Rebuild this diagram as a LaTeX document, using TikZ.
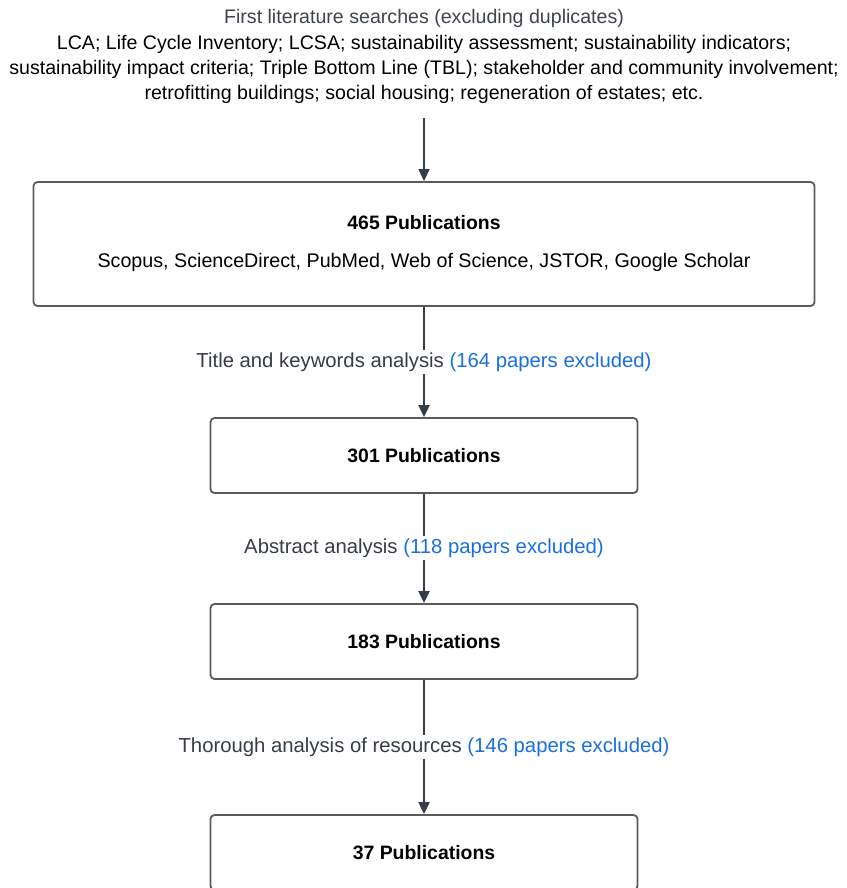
\documentclass[tikz,border=0pt]{standalone}
\usepackage{fontspec}
\setmainfont{Liberation Sans}
\usetikzlibrary{arrows.meta}
\definecolor{headgray}{HTML}{3F454D}
\definecolor{linegray}{HTML}{373D47}
\definecolor{boxgray}{HTML}{5A5A5A}
\definecolor{exclblue}{HTML}{1C6FE0}
\begin{document}
\begin{tikzpicture}[x=1pt,y=-1pt,
    pubbox/.style={draw=boxgray,line width=1.8pt,rounded corners=4pt,fill=white,
      align=center,font=\fontsize{19.7}{22}\selectfont},
    steplabel/.style={text=linegray,inner xsep=0pt,inner ysep=2pt,font=\fontsize{20.3}{22}\selectfont},
    flow/.style={linegray,line width=2pt},
    flowarrow/.style={flow,-{Triangle[length=12pt,width=11pt]}}]
    \clip (0,0) rectangle (846,888);
    \fill[white] (0,0) rectangle (846,888);
    % search terms
    \node[align=center,anchor=north,inner sep=0pt,font=\fontsize{19.6}{25.1}\selectfont] (search) at (424,9.5)
      {{\color{headgray}First literature searches (excluding duplicates)}\\
       LCA; Life Cycle Inventory; LCSA; sustainability assessment; sustainability indicators;\\
       sustainability impact criteria; Triple Bottom Line (TBL); stakeholder and community involvement;\\
       retrofitting buildings; social housing; regeneration of estates; etc.};
    \coordinate (start) at (424,118);
    % boxes
    \node[pubbox,minimum width=781,minimum height=124] (pub465) at (424,244)
      {\textbf{\fontsize{19.4}{22}\selectfont 465 Publications}\\[16pt]
       Scopus, ScienceDirect, PubMed, Web of Science, JSTOR, Google Scholar};
    \node[pubbox,minimum width=427,minimum height=75] (pub301) at (424,455.5)
      {\textbf{\fontsize{19.4}{22}\selectfont 301 Publications}};
    \node[pubbox,minimum width=427,minimum height=75] (pub183) at (424,641.5)
      {\textbf{\fontsize{19.4}{22}\selectfont 183 Publications}};
    \node[pubbox,minimum width=427,minimum height=75] (pub37) at (424,852.5)
      {\textbf{\fontsize{19.4}{22}\selectfont 37 Publications}};
    % screening steps
    \node[steplabel] (title) at (424,362)
      {Title and keywords analysis \textcolor{exclblue}{(164 papers excluded)}};
    \node[steplabel] (abstract) at (424,548)
      {Abstract analysis \textcolor{exclblue}{(118 papers excluded)}};
    \node[steplabel] (thorough) at (424,747)
      {Thorough analysis of resources \textcolor{exclblue}{(146 papers excluded)}};
    % connectors
    \draw[linegray,line width=1.3pt,-{Triangle[length=12pt,width=11pt]}] (start) -- (pub465);
    \draw[flow] (pub465) -- (title);
    \draw[flowarrow] (title) -- (pub301);
    \draw[flow] (pub301) -- (abstract);
    \draw[flowarrow] (abstract) -- (pub183);
    \draw[flow] (pub183) -- (thorough);
    \draw[flowarrow] (thorough) -- (pub37);
\end{tikzpicture}
\end{document}
